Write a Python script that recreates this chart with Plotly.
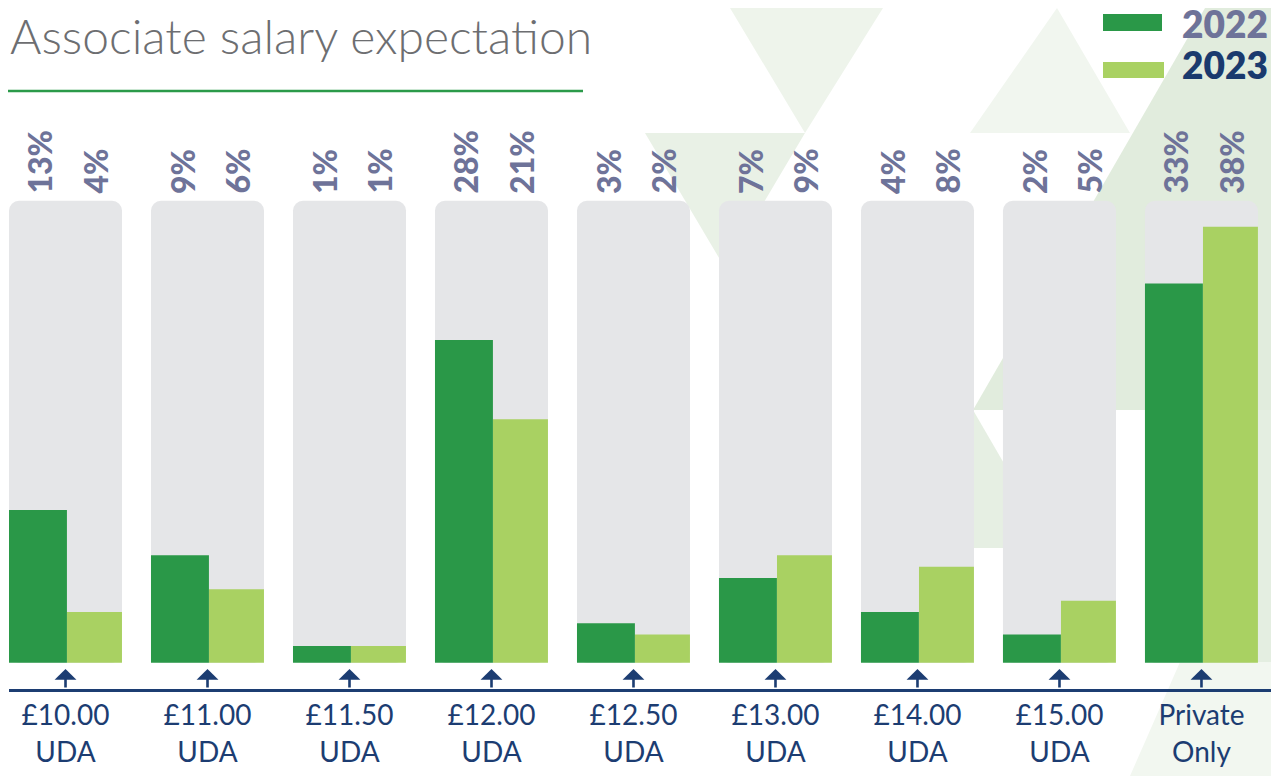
import plotly.graph_objects as go

# ---------------- data ----------------
categories = ["£10.00 UDA", "£11.00 UDA", "£11.50 UDA", "£12.00 UDA", "£12.50 UDA",
              "£13.00 UDA", "£14.00 UDA", "£15.00 UDA", "Private Only"]
tick_labels = ["£10.00<br>UDA", "£11.00<br>UDA", "£11.50<br>UDA", "£12.00<br>UDA",
               "£12.50<br>UDA", "£13.00<br>UDA", "£14.00<br>UDA", "£15.00<br>UDA",
               "Private<br>Only"]
values_2022 = [13, 9, 1, 28, 3, 7, 4, 2, 33]
values_2023 = [4, 6, 1, 21, 2, 9, 8, 5, 38]
series_names = ["2022", "2023"]

# ---------------- style ----------------
DARK = "#2a9848"
LIGHT = "#a9d162"
TRACK = "#e5e6e8"
NAVY = "#1c3d72"
SLATE = "#6e7399"
TITLE_GREY = "#6d6e71"
# page has an 8px body margin: figure starts at screen (8, 8)
W, H = 1271, 768
ML, MB = 1, 87
track_top = 40.3
bar_base = -0.48
y_range = [-2.80, 57.31]
x_range = [-0.398, 8.546]

fig = go.Figure()
n = len(categories)

fig.add_trace(go.Bar(x=categories, y=[track_top - bar_base] * n, base=bar_base,
                     offset=-0.398, width=0.796, marker=dict(color=TRACK, cornerradius=10, line_width=0),
                     hoverinfo="skip", showlegend=False))
fig.add_trace(go.Bar(x=categories, y=[v - bar_base for v in values_2022], base=bar_base,
                     offset=-0.398, width=0.408, marker=dict(color=DARK, line_width=0),
                     name=series_names[0], showlegend=False,
                     customdata=values_2022, hovertemplate="%{x}: %{customdata}%<extra>2022</extra>"))
fig.add_trace(go.Bar(x=categories, y=[v - bar_base for v in values_2023], base=bar_base,
                     offset=0.0106, width=0.387, marker=dict(color=LIGHT, line_width=0),
                     name=series_names[1], showlegend=False,
                     customdata=values_2023, hovertemplate="%{x}: %{customdata}%<extra>2023</extra>"))

annotations = []
# percentage labels
for i, (a, b) in enumerate(zip(values_2022, values_2023)):
    for off, v in ((-0.18, a), (0.21, b)):
        annotations.append(dict(x=i + off, y=40.75, xref="x", yref="y", text=f"{v}%",
                                textangle=-90, showarrow=False, xanchor="center", yanchor="bottom",
                                font=dict(family="Lato", size=32, color=SLATE, weight=900)))
# arrows from axis
for i in range(n):
    annotations.append(dict(x=i, y=-1.03, xref="x", yref="y", ax=i, ay=y_range[0],
                            axref="x", ayref="y", text="", showarrow=True, arrowhead=1,
                            arrowwidth=2.6, arrowsize=1.4, arrowcolor=NAVY, standoff=0))


def px(xs):
    # screen x -> paper
    return (xs - 9) / 1270


def py(ys):
    # screen y -> paper
    return (689 - ys) / 681


# title
annotations.append(dict(x=px(8), y=py(36), xref="paper", yref="paper", text="Associate salary expectation",
                        showarrow=False, xanchor="left", yanchor="middle",
                        font=dict(family="Lato", size=48, color=TITLE_GREY, weight=300)))
# legend text
annotations.append(dict(x=px(1180), y=py(24), xref="paper", yref="paper", text=series_names[0],
                        showarrow=False, xanchor="left", yanchor="middle",
                        font=dict(family="Lato", size=37, color=SLATE, weight=800)))
annotations.append(dict(x=px(1180), y=py(65), xref="paper", yref="paper", text=series_names[1],
                        showarrow=False, xanchor="left", yanchor="middle",
                        font=dict(family="Lato", size=37, color="#1a3a6e", weight=800)))

shapes = []


def poly(points, color):
    d = "M " + " L ".join(f"{px(x):.5f},{py(y):.5f}" for x, y in points) + " Z"
    return dict(type="path", path=d, xref="paper", yref="paper", fillcolor=color,
                line=dict(width=0), layer="below")


# faint background triangles
shapes += [
    poly([(730, 8), (883, 8), (805, 133)], "#eef4eb"),
    poly([(645, 133), (805, 133), (725, 268)], "#e9f1e6"),
    poly([(1057, 8), (970, 133), (1130, 133)], "#f1f6ef"),
    poly([(1205, 8), (1279, 8), (1279, 410), (973, 410)], "#e1ecdd"),
    poly([(973, 410), (893, 548), (1053, 548)], "#e6efe3"),
    poly([(1257, 410), (1279, 410), (1279, 776), (1257, 776)], "#e4eee1"),
    poly([(1180, 662), (1279, 662), (1279, 776), (1130, 776)], "#f2f7f0"),
]
# title underline
shapes.append(dict(type="line", xref="paper", yref="paper", x0=px(8), x1=px(583), y0=py(91), y1=py(91),
                   line=dict(color="#2b9a4a", width=2.5)))
# legend swatches
shapes.append(dict(type="rect", xref="paper", yref="paper", x0=px(1103), x1=px(1162), y0=py(14), y1=py(31),
                   fillcolor=DARK, line=dict(width=0)))
shapes.append(dict(type="rect", xref="paper", yref="paper", x0=px(1103), x1=px(1164), y0=py(62), y1=py(78),
                   fillcolor=LIGHT, line=dict(width=0)))

fig.update_layout(
    width=W, height=H,
    margin=dict(l=ML, r=0, t=0, b=MB, pad=0),
    paper_bgcolor="white", plot_bgcolor="rgba(0,0,0,0)",
    barmode="overlay",
    showlegend=False,
    annotations=annotations,
    shapes=shapes,
    xaxis=dict(range=x_range, type="category", categoryorder="array", categoryarray=categories,
               tickmode="array", tickvals=categories, ticktext=tick_labels,
               showline=True, linecolor=NAVY, linewidth=2.5, ticks="", showgrid=False, zeroline=False,
               tickfont=dict(family="Lato", size=28, color=NAVY), fixedrange=True),
    yaxis=dict(range=y_range, visible=False, showgrid=False, zeroline=False, fixedrange=True),
)

fig.write_html("out.html")
